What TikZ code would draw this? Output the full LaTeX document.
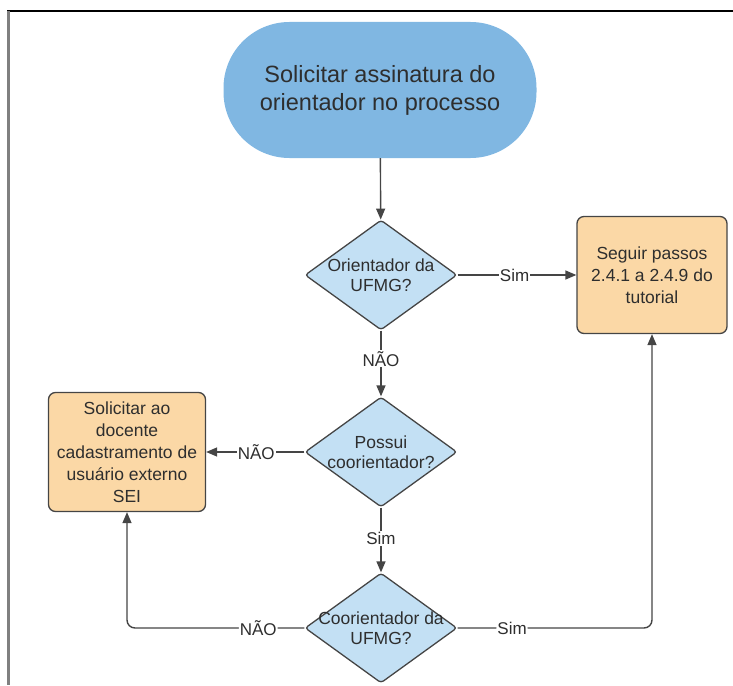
\documentclass[tikz,border=0pt]{standalone}
\usepackage{fontspec}
\setmainfont{Liberation Sans}
\usetikzlibrary{arrows.meta,positioning,shapes.geometric}

\definecolor{startblue}{HTML}{80B7E2}
\definecolor{askblue}{HTML}{C3E0F4}
\definecolor{taskpeach}{HTML}{FBD8A6}
\definecolor{linegray}{HTML}{454545}
\definecolor{inkgray}{HTML}{2E2E2E}

\begin{document}
\begin{tikzpicture}[x=1pt,y=-1pt,
		startnode/.style={rectangle, rounded corners=66pt, fill=startblue,
			minimum width=313pt, minimum height=136pt, align=center,
			font=\fontsize{23.5}{28}\selectfont, text=inkgray},
		decision/.style={diamond, draw=linegray, line width=1.3pt, fill=askblue,
			minimum width=152pt, minimum height=110pt, inner sep=0pt, rounded corners=3pt},
		asktext/.style={align=center, font=\fontsize{17.5}{20}\selectfont,
			inner sep=0pt, text=inkgray},
		task/.style={rectangle, draw=linegray, line width=1.3pt, fill=taskpeach,
			rounded corners=7pt, align=center, inner sep=0pt, text=inkgray,
			font=\fontsize{17.5}{22}\selectfont},
		flow/.style={draw=linegray, line width=1.4pt, -{Triangle[width=9pt,length=11pt]}},
		answer/.style={fill=white, inner sep=1pt, text=inkgray,
			font=\fontsize{17}{18}\selectfont}]
	\useasboundingbox (0,0) rectangle (733,685);
	% frame
	\draw[black, line width=2pt] (7,11) -- (733,11);
	\draw[gray, line width=3pt] (8,11) -- (8,685);
	% nodes
	\node[startnode] (start) at (380,90) {Solicitar assinatura do\\orientador no processo};
	\node[decision] (q1) at (381,275) {};
	\node[asktext] (q1t) at (q1) {Orientador da\\UFMG?};
	\node[task, minimum width=150pt, minimum height=117pt] (box1) at (652,275) {Seguir passos\\2.4.1 a 2.4.9 do\\tutorial};
	\node[decision] (q2) at (381,452) {};
	\node[asktext] (q2t) at (q2) {Possui\\coorientador?};
	\node[task, minimum width=157pt, minimum height=119pt] (box2) at (127,452) {Solicitar ao\\docente\\cadastramento de\\usuário externo\\SEI};
	\node[decision] (q3) at (381,628) {};
	\node[asktext] (q3t) at (q3) {Coorientador da\\UFMG?};
	% connectors
	\draw[flow] (start) -- (q1);
	\draw[flow] (q1) -- node[answer, pos=0.48] {Sim} (box1);
	\draw[flow] (q1) -- node[answer, pos=0.43] {NÃO} (q2);
	\draw[flow] (q2) -- node[answer, pos=0.49] {NÃO} (box2);
	\draw[flow] (q2) -- node[answer, pos=0.48] {Sim} (q3);
	\draw[flow, rounded corners=8pt] (q3.west) -| node[answer, pos=0.13] {NÃO} (box2.south);
	\draw[flow, rounded corners=8pt] (q3.east) -| node[answer, pos=0.14] {Sim} (box1.south);
\end{tikzpicture}
\end{document}
